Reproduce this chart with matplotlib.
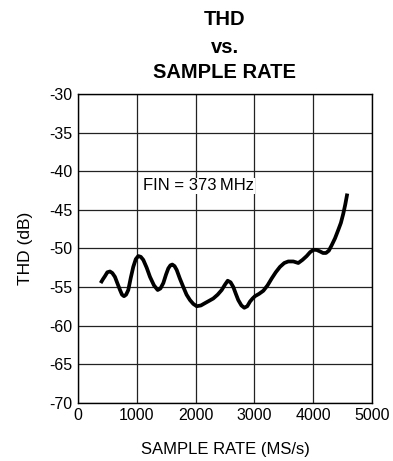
import matplotlib
matplotlib.use("Agg")
import matplotlib.pyplot as plt

plt.rcParams['font.family'] = ['Liberation Sans', 'DejaVu Sans']

sample_rate = [381, 420, 455, 495, 540, 580, 625, 670, 711, 745, 779, 815, 852,
               895, 937, 980, 1022, 1065, 1108, 1165, 1222, 1290, 1353, 1400,
               1449, 1495, 1534, 1570, 1602, 1640, 1677, 1730, 1789, 1845, 1903,
               1960, 2018, 2090, 2159, 2230, 2300, 2375, 2444, 2500, 2546, 2595,
               2641, 2685, 2726, 2780, 2829, 2880, 2926, 2970, 3011, 3080, 3153,
               3225, 3296, 3365, 3437, 3510, 3578, 3665, 3749, 3820, 3892, 3950,
               4005, 4060, 4119, 4170, 4221, 4270, 4318, 4375, 4431, 4475, 4516,
               4550, 4584]
thd = [-54.5, -54.0, -53.6, -53.1, -53.0, -53.2, -53.7, -54.6, -55.4, -56.0,
       -56.2, -56.0, -55.4, -53.8, -52.4, -51.4, -51.0, -51.1, -51.5, -52.5,
       -53.7, -54.8, -55.4, -55.2, -54.5, -53.4, -52.6, -52.2, -52.1, -52.3,
       -52.8, -53.9, -55.0, -56.0, -56.7, -57.2, -57.5, -57.4, -57.1, -56.8,
       -56.5, -56.0, -55.4, -54.7, -54.2, -54.4, -55.0, -55.9, -56.7, -57.4,
       -57.7, -57.5, -56.9, -56.5, -56.2, -55.9, -55.5, -54.8, -53.9, -53.1,
       -52.4, -51.9, -51.7, -51.7, -51.9, -51.5, -51.0, -50.5, -50.2, -50.2,
       -50.4, -50.6, -50.6, -50.3, -49.6, -48.7, -47.6, -46.7, -45.5, -44.3,
       -42.9]
x_ticks = [0, 1000, 2000, 3000, 4000, 5000]
y_ticks = [-70, -65, -60, -55, -50, -45, -40, -35, -30]
title_lines = ["THD", "vs.", "SAMPLE RATE"]

fig = plt.figure(figsize=(3.93, 4.61), dpi=100)
ax = fig.add_axes([0.1992, 0.1265, 0.7466, 0.6696])

ax.plot(sample_rate, thd, color='black', lw=2.7, solid_capstyle='butt',
        solid_joinstyle='round', zorder=3)
ax.set_xlim(0, 5000)
ax.set_ylim(-70, -30)
ax.set_xticks(x_ticks)
ax.set_yticks(y_ticks)
ax.set_xticklabels([str(v) for v in x_ticks])
ax.set_yticklabels([str(v) for v in y_ticks])
ax.grid(True, color='#222222', lw=0.9)
ax.tick_params(length=0, labelsize=11.5)
ax.tick_params(axis='y', pad=4.5)
ax.tick_params(axis='x', pad=4)
for s in ax.spines.values():
    s.set_linewidth(1.0)
    s.set_color('black')

ax.text(1107, -42.5, "FIN = 373\u2009MHz", fontsize=12, va='baseline', ha='left',
        bbox=dict(facecolor='white', edgecolor='none', pad=0.5), zorder=4)

ax.set_xlabel("SAMPLE RATE (MS/s)", fontsize=12, va='baseline')
ax.xaxis.set_label_coords(0.5, -0.166)
ax.set_ylabel("THD (dB)", fontsize=12.5, va='center')
ax.yaxis.set_label_coords(-0.179, 0.5)

ys = [1 - 25 / 461, 1 - 53.3 / 461, 1 - 78.3 / 461]
for line, y in zip(title_lines, ys):
    fig.text(225 / 393, y, line, ha='center', va='baseline', fontsize=14.5,
             fontweight='bold')

fig.savefig("out.png", dpi=100)
